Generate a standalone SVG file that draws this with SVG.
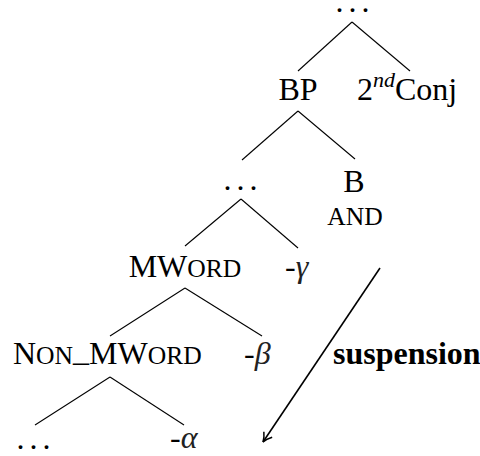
<svg xmlns="http://www.w3.org/2000/svg" width="480" height="456" viewBox="0 0 480 456">
<style>
text{font-family:"Liberation Serif","Times New Roman",serif;font-size:32px;fill:#000}
.mid{text-anchor:middle}
.sc{font-size:25.6px}
.gr{font-family:"Liberation Serif",serif;font-style:italic;fill:#222}
.dots{letter-spacing:5px}
.edge{stroke:#000;stroke-width:1.1;fill:none}
.arr{stroke:#000;stroke-width:1.6;fill:none}
</style>
<defs>
<marker id="ah" viewBox="-10 -6 12 12" markerWidth="12" markerHeight="12" refX="0" refY="0" orient="auto" markerUnits="userSpaceOnUse">
<path d="M-9,-5 Q-4,-1 0,0 Q-4,1 -9,5" fill="none" stroke="#000" stroke-width="1.5"/>
</marker>
</defs>
<g id="connectors">
<line class="edge" x1="352" y1="22" x2="298" y2="71"/>
<line class="edge" x1="352" y1="22" x2="410" y2="71"/>
<line class="edge" x1="298" y1="111" x2="242" y2="160"/>
<line class="edge" x1="298" y1="111" x2="355" y2="159"/>
<line class="edge" x1="241" y1="199" x2="185" y2="246"/>
<line class="edge" x1="241" y1="199" x2="298" y2="248"/>
<line class="edge" x1="185" y1="288" x2="110" y2="336"/>
<line class="edge" x1="185" y1="288" x2="262" y2="336"/>
<line class="edge" x1="110" y1="377" x2="35" y2="425"/>
<line class="edge" x1="110" y1="377" x2="184" y2="425"/>
<line class="arr" x1="380" y1="268" x2="263" y2="442" marker-end="url(#ah)"/>
</g>
<g id="top"><text class="mid dots" x="355" y="12">...</text></g>
<g id="bp"><text class="mid" x="298" y="100">BP</text></g>
<g id="conj"><text x="357" y="100">2<tspan font-size="22" font-style="italic" dy="-13">nd</tspan><tspan dy="13">Conj</tspan></text></g>
<g id="dots2"><text class="mid dots" x="243" y="190">...</text></g>
<g id="b"><text class="mid" x="354" y="192">B</text></g>
<g id="and"><text class="mid sc" x="355" y="225">AND</text></g>
<g id="mword"><text class="mid" x="185" y="277">MW<tspan class="sc">ORD</tspan></text></g>
<g id="gamma"><text x="285" y="277">-<tspan class="gr">γ</tspan></text></g>
<g id="nonmword"><text x="13" y="364">N<tspan class="sc">ON</tspan><tspan dy="-3">_</tspan><tspan dy="3">MW</tspan><tspan class="sc">ORD</tspan></text></g>
<g id="beta"><text x="244" y="364">-<tspan class="gr">β</tspan></text></g>
<g id="susp"><text x="333" y="364" font-weight="bold">suspension</text></g>
<g id="dots3"><text class="mid dots" x="36" y="449">...</text></g>
<g id="alpha"><text x="170" y="448">-<tspan class="gr">α</tspan></text></g>
</svg>
